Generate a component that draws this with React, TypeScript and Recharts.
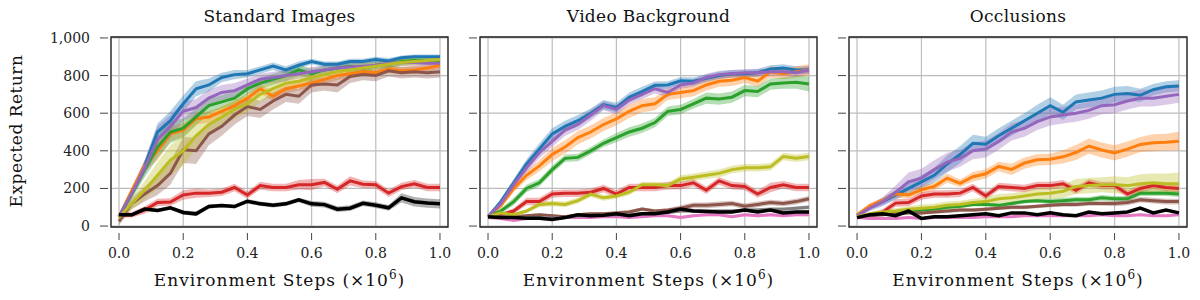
import { ComposedChart, Area, Line, XAxis, YAxis, CartesianGrid, ReferenceArea } from "recharts";

const STEPS = [0, 0.04, 0.08, 0.12, 0.16, 0.2, 0.24, 0.28, 0.32, 0.36, 0.4, 0.44, 0.48, 0.52, 0.56, 0.6, 0.64, 0.68, 0.72, 0.76, 0.8, 0.84, 0.88, 0.92, 0.96, 1.0];
const X_TICKS = [0, 0.2, 0.4, 0.6, 0.8, 1.0];
const Y_TICKS = [0, 200, 400, 600, 800, 1000];
const TITLES = ["Standard Images", "Video Background", "Occlusions"];

const COLORS: Record<string, string> = {
  blue: "#1f77b4", orange: "#ff7f0e", green: "#2ca02c", red: "#d62728", purple: "#9467bd",
  brown: "#8c564b", pink: "#e377c2", gray: "#7f7f7f", olive: "#bcbd22", black: "#000000",
};

// Standard Images: mean and half-width of shaded band
const stdBlue = [50, 180, 320, 500, 560, 650, 730, 750, 790, 805, 810, 830, 850, 830, 855, 875, 860, 860, 875, 875, 885, 878, 895, 900, 900, 900];
const stdBlueSd = [5, 20, 30, 45, 50, 45, 40, 35, 25, 25, 20, 20, 20, 20, 20, 15, 15, 15, 15, 15, 15, 15, 12, 12, 12, 12];
const stdOrange = [50, 190, 320, 400, 490, 510, 570, 580, 610, 640, 680, 730, 690, 730, 745, 760, 780, 800, 810, 820, 815, 835, 825, 830, 840, 855];
const stdOrangeSd = [5, 20, 30, 50, 40, 35, 30, 30, 25, 25, 25, 25, 25, 25, 25, 25, 25, 25, 20, 20, 20, 20, 20, 20, 20, 20];
const stdGreen = [50, 170, 300, 420, 500, 520, 580, 640, 660, 680, 730, 760, 780, 800, 830, 810, 830, 840, 850, 840, 855, 860, 875, 880, 880, 880];
const stdGreenSd = [5, 25, 40, 60, 60, 50, 45, 40, 35, 35, 30, 30, 30, 30, 30, 25, 25, 25, 25, 25, 20, 20, 20, 20, 20, 20];
const stdRed = [55, 60, 85, 125, 128, 165, 175, 175, 180, 205, 165, 215, 205, 205, 220, 220, 232, 195, 240, 222, 220, 175, 210, 225, 205, 205];
const stdRedSd = [10, 15, 20, 20, 20, 25, 25, 20, 20, 20, 20, 20, 20, 20, 25, 30, 20, 20, 25, 20, 20, 20, 20, 20, 20, 20];
const stdPurple = [50, 175, 310, 460, 530, 610, 630, 680, 710, 720, 750, 780, 790, 800, 810, 820, 830, 840, 845, 850, 855, 865, 870, 870, 865, 865];
const stdPurpleSd = [5, 25, 40, 70, 60, 50, 45, 45, 40, 40, 35, 30, 30, 30, 25, 25, 25, 20, 20, 20, 20, 20, 20, 20, 20, 20];
const stdBrown = [25, 120, 170, 215, 280, 405, 400, 490, 530, 590, 635, 620, 665, 700, 690, 750, 755, 750, 795, 805, 800, 825, 815, 820, 815, 820];
const stdBrownSd = [20, 30, 40, 50, 60, 70, 70, 60, 50, 50, 50, 45, 45, 40, 40, 40, 35, 40, 35, 30, 30, 30, 30, 30, 30, 30];
const stdOlive = [45, 120, 190, 270, 350, 400, 480, 540, 580, 620, 650, 700, 730, 760, 770, 790, 805, 820, 830, 840, 850, 860, 870, 875, 880, 885];
const stdOliveSd = [5, 30, 50, 70, 80, 80, 70, 60, 55, 50, 45, 40, 40, 35, 35, 30, 30, 25, 25, 25, 20, 20, 20, 20, 20, 20];
const stdBlack = [60, 60, 90, 83, 97, 72, 65, 104, 109, 104, 132, 118, 111, 118, 139, 118, 114, 90, 95, 121, 111, 97, 150, 129, 122, 118];
const stdBlackSd = [5, 10, 10, 10, 10, 12, 12, 10, 10, 10, 12, 12, 12, 12, 12, 15, 15, 15, 15, 15, 15, 15, 25, 25, 25, 25];

// Video Background
const vidBlue = [50, 130, 230, 330, 410, 490, 530, 560, 600, 645, 630, 685, 715, 748, 750, 772, 770, 785, 800, 810, 810, 815, 835, 840, 830, 830];
const vidBlueSd = [5, 15, 20, 25, 30, 30, 30, 30, 25, 25, 25, 25, 25, 20, 20, 20, 20, 20, 20, 20, 20, 20, 20, 20, 20, 20];
const vidOrange = [50, 110, 200, 270, 320, 380, 420, 470, 500, 540, 570, 610, 640, 650, 700, 710, 720, 750, 770, 775, 790, 770, 820, 810, 820, 830];
const vidOrangeSd = [5, 15, 20, 25, 30, 35, 35, 35, 35, 35, 35, 35, 35, 35, 30, 30, 30, 30, 30, 30, 30, 30, 30, 30, 30, 30];
const vidGreen = [50, 80, 130, 200, 230, 300, 360, 365, 400, 440, 470, 500, 520, 550, 610, 620, 650, 680, 675, 685, 720, 715, 755, 760, 765, 755];
const vidGreenSd = [5, 15, 20, 20, 20, 20, 20, 20, 20, 20, 25, 25, 25, 25, 25, 25, 25, 30, 30, 30, 30, 30, 30, 30, 35, 40];
const vidRed = [45, 60, 80, 130, 130, 170, 175, 175, 180, 200, 170, 205, 205, 205, 215, 215, 230, 190, 240, 215, 210, 170, 205, 220, 205, 205];
const vidRedSd = [5, 10, 15, 20, 20, 20, 20, 20, 20, 20, 20, 20, 20, 20, 20, 20, 20, 20, 20, 20, 20, 20, 25, 20, 20, 20];
const vidPurple = [50, 120, 220, 310, 390, 450, 510, 540, 590, 640, 620, 670, 700, 730, 710, 750, 760, 790, 805, 810, 815, 815, 820, 820, 815, 830];
const vidPurpleSd = [5, 15, 20, 25, 30, 30, 30, 30, 30, 25, 25, 25, 25, 25, 25, 20, 20, 20, 20, 20, 20, 20, 20, 20, 20, 20];
const vidBrown = [50, 45, 50, 55, 60, 55, 50, 60, 65, 65, 70, 75, 90, 80, 85, 95, 110, 110, 115, 120, 105, 115, 125, 120, 130, 145];
const vidBrownSd = [5, 5, 8, 8, 8, 8, 8, 8, 10, 10, 10, 10, 10, 10, 10, 15, 15, 15, 15, 15, 15, 15, 15, 15, 15, 15];
const vidPink = [45, 40, 30, 40, 45, 40, 45, 45, 45, 50, 50, 45, 50, 55, 55, 45, 55, 60, 60, 50, 60, 55, 60, 55, 60, 60];
const vidPinkSd = [5, 5, 5, 5, 5, 5, 5, 5, 5, 5, 5, 5, 5, 5, 5, 8, 8, 8, 8, 8, 8, 8, 8, 8, 8, 8];
const vidGray = [50, 48, 48, 45, 45, 42, 45, 55, 55, 58, 62, 60, 65, 68, 72, 80, 80, 80, 80, 80, 85, 85, 90, 90, 95, 100];
const vidGraySd = [5, 5, 5, 5, 5, 5, 5, 5, 5, 5, 8, 8, 8, 8, 8, 8, 8, 8, 8, 8, 10, 10, 10, 10, 10, 10];
const vidOlive = [50, 70, 60, 80, 115, 120, 115, 135, 170, 150, 160, 180, 220, 220, 215, 250, 260, 270, 280, 300, 310, 310, 315, 370, 360, 370];
const vidOliveSd = [5, 10, 10, 10, 15, 15, 15, 15, 15, 15, 15, 15, 15, 15, 15, 20, 20, 20, 20, 20, 20, 20, 20, 20, 20, 20];
const vidBlack = [50, 45, 45, 42, 42, 35, 45, 60, 55, 58, 65, 55, 65, 65, 75, 90, 80, 78, 75, 75, 85, 75, 85, 70, 75, 75];
const vidBlackSd = [5, 5, 5, 5, 5, 5, 5, 5, 5, 5, 5, 8, 8, 8, 8, 8, 8, 8, 8, 8, 8, 8, 8, 8, 8, 8];

// Occlusions
const occBlue = [55, 100, 130, 165, 200, 235, 270, 330, 380, 440, 435, 480, 520, 560, 600, 640, 605, 660, 670, 680, 700, 705, 695, 725, 740, 745];
const occBlueSd = [5, 15, 20, 25, 30, 35, 40, 45, 45, 45, 40, 40, 40, 40, 45, 45, 40, 40, 40, 40, 40, 40, 35, 30, 30, 30];
const occOrange = [60, 108, 136, 172, 165, 193, 211, 255, 227, 262, 278, 317, 301, 335, 352, 355, 368, 391, 425, 404, 389, 409, 434, 443, 446, 451];
const occOrangeSd = [5, 15, 15, 20, 20, 20, 20, 25, 20, 25, 25, 25, 30, 30, 30, 30, 35, 40, 40, 40, 40, 40, 40, 45, 45, 50];
const occGreen = [50, 60, 65, 75, 80, 85, 90, 100, 105, 115, 115, 110, 120, 130, 135, 130, 135, 140, 140, 150, 145, 145, 175, 175, 175, 170];
const occGreenSd = [5, 5, 8, 8, 10, 10, 10, 10, 10, 10, 10, 10, 10, 10, 10, 15, 15, 15, 15, 15, 15, 15, 15, 15, 15, 15];
const occRed = [55, 60, 75, 122, 125, 160, 170, 170, 175, 205, 160, 210, 205, 200, 215, 215, 225, 190, 230, 215, 215, 170, 200, 215, 205, 200];
const occRedSd = [5, 10, 15, 20, 20, 20, 20, 20, 20, 20, 20, 20, 20, 20, 20, 20, 20, 20, 20, 20, 20, 20, 20, 20, 20, 20];
const occPurple = [55, 95, 130, 180, 235, 255, 300, 340, 360, 400, 410, 450, 500, 520, 555, 580, 590, 600, 615, 640, 645, 665, 680, 680, 690, 700];
const occPurpleSd = [5, 15, 25, 35, 50, 50, 50, 50, 45, 45, 45, 45, 45, 45, 45, 45, 45, 45, 45, 45, 45, 45, 45, 45, 45, 45];
const occBrown = [45, 55, 60, 65, 70, 70, 75, 80, 85, 85, 90, 95, 100, 100, 105, 110, 115, 115, 120, 120, 120, 125, 140, 135, 130, 130];
const occBrownSd = [5, 5, 8, 8, 8, 10, 10, 10, 10, 10, 10, 10, 10, 10, 10, 10, 12, 12, 12, 12, 15, 15, 15, 15, 15, 15];
const occPink = [45, 40, 40, 40, 45, 40, 45, 45, 45, 45, 50, 50, 50, 55, 55, 55, 55, 55, 55, 60, 55, 55, 60, 55, 55, 60];
const occPinkSd = [5, 5, 5, 5, 5, 5, 5, 5, 5, 5, 5, 5, 5, 5, 5, 5, 5, 5, 5, 5, 5, 5, 5, 5, 5, 5];
const occOlive = [50, 65, 75, 80, 90, 95, 100, 110, 115, 125, 130, 145, 150, 160, 170, 175, 185, 210, 215, 220, 220, 215, 225, 230, 225, 225];
const occOliveSd = [5, 10, 10, 15, 15, 20, 20, 20, 20, 20, 25, 25, 25, 25, 30, 30, 35, 40, 40, 40, 45, 45, 50, 50, 55, 60];
const occBlack = [45, 60, 65, 55, 80, 40, 50, 50, 55, 60, 65, 55, 70, 70, 60, 70, 60, 55, 75, 65, 70, 75, 95, 70, 85, 70];
const occBlackSd = [5, 5, 5, 5, 5, 5, 5, 5, 5, 5, 5, 5, 5, 5, 5, 5, 5, 5, 5, 5, 5, 5, 5, 5, 5, 5];

type Series = { key: string; mean: number[]; sd: number[] };

const panels: { title: string; left: number; right: number; series: Series[] }[] = [
  {
    title: TITLES[0], left: 111, right: 448,
    series: [
      { key: "blue", mean: stdBlue, sd: stdBlueSd },
      { key: "orange", mean: stdOrange, sd: stdOrangeSd },
      { key: "green", mean: stdGreen, sd: stdGreenSd },
      { key: "red", mean: stdRed, sd: stdRedSd },
      { key: "purple", mean: stdPurple, sd: stdPurpleSd },
      { key: "brown", mean: stdBrown, sd: stdBrownSd },
      { key: "olive", mean: stdOlive, sd: stdOliveSd },
      { key: "black", mean: stdBlack, sd: stdBlackSd },
    ],
  },
  {
    title: TITLES[1], left: 480, right: 817,
    series: [
      { key: "blue", mean: vidBlue, sd: vidBlueSd },
      { key: "orange", mean: vidOrange, sd: vidOrangeSd },
      { key: "green", mean: vidGreen, sd: vidGreenSd },
      { key: "red", mean: vidRed, sd: vidRedSd },
      { key: "purple", mean: vidPurple, sd: vidPurpleSd },
      { key: "brown", mean: vidBrown, sd: vidBrownSd },
      { key: "pink", mean: vidPink, sd: vidPinkSd },
      { key: "gray", mean: vidGray, sd: vidGraySd },
      { key: "olive", mean: vidOlive, sd: vidOliveSd },
      { key: "black", mean: vidBlack, sd: vidBlackSd },
    ],
  },
  {
    title: TITLES[2], left: 849, right: 1187,
    series: [
      { key: "blue", mean: occBlue, sd: occBlueSd },
      { key: "orange", mean: occOrange, sd: occOrangeSd },
      { key: "green", mean: occGreen, sd: occGreenSd },
      { key: "red", mean: occRed, sd: occRedSd },
      { key: "purple", mean: occPurple, sd: occPurpleSd },
      { key: "brown", mean: occBrown, sd: occBrownSd },
      { key: "pink", mean: occPink, sd: occPinkSd },
      { key: "olive", mean: occOlive, sd: occOliveSd },
      { key: "black", mean: occBlack, sd: occBlackSd },
    ],
  },
];

const FONT = "'DejaVu Serif', serif";
const TOP = 37;
const BOTTOM = 227;
const X_DOMAIN: [number, number] = [-0.025, 1.025];
const Y_DOMAIN: [number, number] = [-5, 1005];

function XTick(props: any) {
  const { x, y, payload } = props;
  return (
    <g>
      <line x1={x} x2={x} y1={y + 6} y2={y + 13} stroke="#444" strokeWidth={1} />
      <text x={x} y={y + 31} textAnchor="middle" fontFamily={FONT} fontSize={14} fill="#222">{payload.value.toFixed(1)}</text>
    </g>
  );
}

function makeYTick(showLabel: boolean) {
  return (props: any) => {
    const { x, y, payload } = props;
    return (
      <g>
        <line x1={x - 11} x2={x - 3} y1={y} y2={y} stroke="#444" strokeWidth={1} />
        {showLabel && (
          <text x={x - 21} y={y + 5} textAnchor="end" fontFamily={FONT} fontSize={14} fill="#222">
            {payload.value.toLocaleString("en-US")}
          </text>
        )}
      </g>
    );
  };
}

function Panel({ p, idx }: { p: (typeof panels)[number]; idx: number }) {
  const data = STEPS.map((s, i) => {
    const row: Record<string, any> = { x: s };
    p.series.forEach((se) => {
      row[se.key] = se.mean[i];
      row[se.key + "Band"] = [se.mean[i] - se.sd[i], se.mean[i] + se.sd[i]];
    });
    return row;
  });
  return (
    <div style={{ position: "absolute", left: 0, top: 0 }}>
      <ComposedChart width={1200} height={300} data={data} margin={{ top: TOP, right: 1200 - p.right, left: 0, bottom: 300 - BOTTOM - 30 }}>
        <CartesianGrid stroke="#bdbdbd" strokeWidth={1.2} />
        <XAxis dataKey="x" type="number" domain={X_DOMAIN} ticks={X_TICKS} allowDataOverflow height={30}
          axisLine={false} tickLine={false} tickSize={0} tickMargin={0} tick={XTick} interval={0} />
        <YAxis type="number" domain={Y_DOMAIN} ticks={Y_TICKS} allowDataOverflow width={p.left}
          axisLine={false} tickLine={false} tickSize={0} tickMargin={0} tick={makeYTick(idx === 0)} interval={0} />
        {p.series.map((se) => (
          <Area key={se.key + "b"} type="linear" dataKey={se.key + "Band"} stroke="none" fill={COLORS[se.key]}
            fillOpacity={se.key === "black" ? 0.3 : 0.35} isAnimationActive={false} activeDot={false} />
        ))}
        {p.series.map((se) => (
          <Line key={se.key} type="linear" dataKey={se.key} stroke={COLORS[se.key]} strokeWidth={se.key === "black" ? 3.5 : 3}
            dot={false} activeDot={false} isAnimationActive={false} />
        ))}
        <ReferenceArea x1={X_DOMAIN[0]} x2={X_DOMAIN[1]} y1={Y_DOMAIN[0]} y2={Y_DOMAIN[1]} fill="none" fillOpacity={0}
          stroke="#222" strokeWidth={1.3} ifOverflow="visible" />
      </ComposedChart>
    </div>
  );
}

export default function App() {
  return (
    <div style={{ position: "absolute", left: 0, top: 0, width: 1200, height: 300, background: "#fff" }}>
      {panels.map((p, i) => <Panel key={i} p={p} idx={i} />)}
      <svg width={1200} height={300} style={{ position: "absolute", left: 0, top: 0, pointerEvents: "none" }}>
        {panels.map((p, i) => {
          const cx = (p.left + p.right) / 2;
          return (
            <g key={i} fontFamily={FONT} fill="#111">
              <text x={cx} y={22} textAnchor="middle" fontSize={17} letterSpacing={0.3}>{p.title}</text>
              <text x={cx} y={286} textAnchor="middle" fontSize={17} letterSpacing={1}>
                <tspan>Environment Steps (×10</tspan>
                <tspan dy={-7} fontSize={12}>6</tspan>
                <tspan dy={7}>)</tspan>
              </text>
            </g>
          );
        })}
        <text x={22} y={131} transform="rotate(-90 22 131)" textAnchor="middle" fontFamily={FONT} fontSize={17}
          letterSpacing={0.5} fill="#111">Expected Return</text>
      </svg>
    </div>
  );
}
